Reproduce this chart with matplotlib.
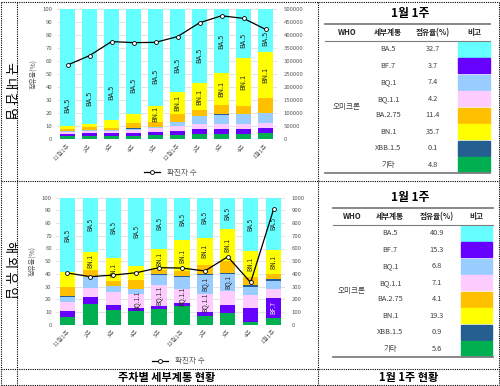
import numpy as np
import matplotlib
matplotlib.use("Agg")
import matplotlib.pyplot as plt
from matplotlib.lines import Line2D
from matplotlib.patches import Rectangle

plt.rcParams["font.family"] = ["Noto Sans CJK KR", "DejaVu Sans"]

# categories
WEEKS = ["11월1주", "2주", "3주", "4주", "5주", "12월1주", "2주", "3주", "4주", "1월1주"]
STACK = ["기타", "BF.7", "BQ.1.1", "BQ.1", "XBB.1.5", "BA.2.75", "BN.1", "BA.5"]
TABLE_ORDER = ["BA.5", "BF.7", "BQ.1", "BQ.1.1", "BA.2.75", "BN.1", "XBB.1.5", "기타"]

# 국내감염 share (%)
DOM_ETC = [2.5, 2.5, 2.7, 2.5, 3.0, 3.3, 4.1, 4.1, 4.1, 4.8]
DOM_BF7 = [1.5, 2.0, 1.8, 2.5, 2.5, 3.1, 3.8, 3.9, 3.9, 3.7]
DOM_BQ11 = [1.5, 1.5, 1.5, 2.0, 3.0, 4.0, 3.6, 3.7, 3.9, 4.2]
DOM_BQ1 = [1.0, 1.0, 1.2, 1.2, 1.0, 3.0, 6.2, 7.0, 7.3, 7.4]
DOM_XBB = [0.2, 0.2, 0.2, 0.2, 0.1, 0.1, 0.2, 0.5, 0.3, 0.1]
DOM_BA275 = [1.5, 2.0, 1.0, 3.9, 3.5, 6.0, 4.6, 7.0, 6.3, 11.4]
DOM_BN1 = [1.8, 2.8, 6.6, 7.1, 12.7, 16.5, 20.6, 24.3, 36.4, 35.7]
DOM_BA5 = [90.0, 88.0, 85.0, 80.6, 74.2, 64.0, 56.9, 49.5, 37.8, 32.7]
DOM_CASES = [285000, 321000, 375000, 371000, 372000, 394000, 447000, 474000, 464000, 422000]

# 해외유입 share (%)
OVS_ETC = [6.3, 16.5, 11.8, 10.8, 12.1, 15.0, 6.6, 9.4, 2.4, 5.6]
OVS_BF7 = [4.7, 5.3, 3.7, 2.6, 2.6, 2.0, 3.6, 6.1, 10.5, 15.3]
OVS_BQ11 = [7.1, 6.8, 10.0, 11.0, 16.5, 11.0, 14.2, 11.3, 10.5, 7.1]
OVS_BQ1 = [3.9, 8.8, 5.0, 3.4, 8.2, 9.8, 14.9, 13.1, 6.5, 6.8]
OVS_XBB = [0.8, 0.4, 0.2, 0.3, 0.3, 0.5, 0.3, 0.8, 1.2, 0.9]
OVS_BA275 = [7.2, 4.9, 3.5, 6.8, 3.7, 4.0, 7.1, 9.2, 6.4, 4.1]
OVS_BN1 = [11.2, 14.5, 18.1, 11.1, 16.0, 24.0, 21.8, 25.2, 20.2, 19.3]
OVS_BA5 = [58.8, 42.8, 47.7, 54.0, 40.6, 33.7, 31.5, 24.9, 42.3, 40.9]
OVS_CASES = [407, 378, 391, 409, 449, 446, 423, 535, 333, 908]

COLORS = {
    "BA.5": "#66FFFF", "BF.7": "#6600FF", "BQ.1": "#99CCFF", "BQ.1.1": "#FFCCFF",
    "BA.2.75": "#FFC000", "BN.1": "#FFFF00", "XBB.1.5": "#255E91", "기타": "#00B050",
}

W, H = 500, 386
fig = plt.figure(figsize=(5, 3.86), dpi=100)


def px_axes(x0, y0, x1, y1):
    return fig.add_axes([x0 / W, 1 - y1 / H, (x1 - x0) / W, (y1 - y0) / H])


def draw_chart(box, shares, cases, cmax, cstep, labels, legend_xy, fs, ba5_y=None):
    ax = px_axes(*box)
    x = np.arange(len(WEEKS))
    bottom = np.zeros(len(WEEKS))
    for name in STACK:
        vals = np.array(shares[name])
        ax.bar(x, vals, bottom=bottom, width=0.67, color=COLORS[name], zorder=2)
        for i in labels.get(name, []):
            yc = bottom[i] + vals[i] / 2
            if name == "BA.5" and ba5_y is not None:
                yc = ba5_y[i]
            tc = "white" if name == "BF.7" else "#262626"
            ax.text(i, yc, name, rotation=90, ha="center", va="center",
                    fontsize=fs, color=tc, zorder=3)
        bottom += vals
    ax.set_xlim(-0.5, len(WEEKS) - 0.5)
    ax.set_ylim(0, 100)
    ax.set_yticks(np.arange(0, 101, 10))
    ax.set_xticks(x)
    ax.set_xticklabels(WEEKS, rotation=45, ha="right", rotation_mode="anchor")
    ax.yaxis.grid(True, color="#d9d9d9", lw=0.5)
    ax.set_axisbelow(True)
    for s in ax.spines.values():
        s.set_visible(False)
    ax.tick_params(length=0, labelsize=4.3, labelcolor="#595959", pad=3)
    ax.set_ylabel("점유율(%)", fontsize=5, color="#595959", labelpad=4)

    ax2 = ax.twinx()
    ax2.plot(x, cases, color="black", lw=0.9, marker="o", ms=2.8,
             mfc="white", mec="black", mew=0.6, zorder=5)
    ax2.set_ylim(0, cmax)
    ax2.set_yticks(np.arange(0, cmax + 1, cstep))
    for s in ax2.spines.values():
        s.set_visible(False)
    ax2.tick_params(length=0, labelsize=4.3, labelcolor="#595959", pad=5)

    handle = Line2D([], [], color="black", lw=0.9, marker="o", ms=2.8,
                    mfc="white", mec="black", mew=0.6)
    fig.legend([handle], ["확진자 수"], loc="center", frameon=False,
               bbox_to_anchor=(legend_xy[0] / W, 1 - legend_xy[1] / H),
               fontsize=5.5, labelcolor="#595959", handlelength=2.2)


def build(etc, bf7, bq11, bq1, xbb, ba275, bn1, ba5):
    return {"기타": etc, "BF.7": bf7, "BQ.1.1": bq11, "BQ.1": bq1,
            "XBB.1.5": xbb, "BA.2.75": ba275, "BN.1": bn1, "BA.5": ba5}


dom = build(DOM_ETC, DOM_BF7, DOM_BQ11, DOM_BQ1, DOM_XBB, DOM_BA275, DOM_BN1, DOM_BA5)
ovs = build(OVS_ETC, OVS_BF7, OVS_BQ11, OVS_BQ1, OVS_XBB, OVS_BA275, OVS_BN1, OVS_BA5)

# label placement for BA.5 in the domestic chart (as in the original)
top_ba5_y = [26, 31.5, 36, 41, 48.6, 57, 64.7, 75, 75.7, 77.5]

draw_chart((56.5, 9, 276.5, 139.3), dom, DOM_CASES, 500000, 50000,
           {"BA.5": range(10), "BN.1": range(4, 10)}, (170, 172.5), 5.2, top_ba5_y)
draw_chart((56, 197.7, 285, 324.7), ovs, OVS_CASES, 1000, 100,
           {"BA.5": range(10), "BN.1": [1, 2, 4, 5, 6, 7, 8, 9],
            "BQ.1.1": [3, 4, 5, 6], "BQ.1": [6, 7], "BF.7": [9]}, (178, 361.5), 4.5)

# overlay: borders, side labels and tables
ov = fig.add_axes([0, 0, 1, 1])
ov.set_xlim(0, W)
ov.set_ylim(H, 0)
ov.axis("off")

dot = dict(color="black", lw=0.8, ls=(0, (1, 1)))
for xv in [1, 16.5, 318, 499]:
    ov.plot([xv, xv], [1.5, 385], **dot)
for yv in [1.5, 181, 369, 385]:
    ov.plot([1, 499], [yv, yv], **dot)

ov.text(9, 91, "국 내 감 염", rotation=270, ha="center", va="center", fontsize=9.5)
ov.text(9, 270, "해 외 유 입", rotation=270, ha="center", va="center", fontsize=9.5)
ov.text(167, 377.5, "주차별 세부계통 현황", ha="center", va="center", fontsize=8, fontweight="bold")
ov.text(409, 377.5, "1월 1주 현황", ha="center", va="center", fontsize=8, fontweight="bold")


def draw_table(shares, cols, sw, span, y_title, y_top):
    ov.text(410, y_title, "1월 1주", ha="center", va="center", fontsize=8.5, fontweight="bold")
    ov.plot(span, [y_top, y_top], color="#7f7f7f", lw=1.3)
    hdr_y = y_top + 8.5
    for xc, t in zip(cols, ["WHO", "세부계통", "점유율(%)", "비고"]):
        ov.text(xc, hdr_y, t, ha="center", va="center", fontsize=5.5,
                fontweight="bold", color="#262626")
    y0 = y_top + 17
    ov.plot(span, [y0, y0], color="#7f7f7f", lw=0.8)
    rh = 16.5
    for k, name in enumerate(TABLE_ORDER):
        yc = y0 + rh * (k + 0.5)
        ov.text(cols[1], yc, name, ha="center", va="center", fontsize=5.3, color="#404040")
        ov.text(cols[2], yc, f"{shares[name][-1]:.1f}", ha="center", va="center",
                fontsize=5.3, color="#404040")
        ov.add_patch(Rectangle((sw[0], y0 + rh * k + 0.6), sw[1] - sw[0], rh - 1.2,
                               color=COLORS[name]))
    ov.text(cols[0], y0 + rh * 4, "오미크론", ha="center", va="center", fontsize=5.5, color="#404040")
    yb = y0 + rh * len(TABLE_ORDER)
    ov.plot(span, [yb, yb], color="#7f7f7f", lw=1.3)


draw_table(dom, (346.7, 388, 433, 474), (458, 490), [325, 490], 13, 24)
draw_table(ovs, (351.7, 390, 436.7, 476.7), (461, 492), [333, 492.7], 198, 208)

fig.savefig("out.png", dpi=100)
